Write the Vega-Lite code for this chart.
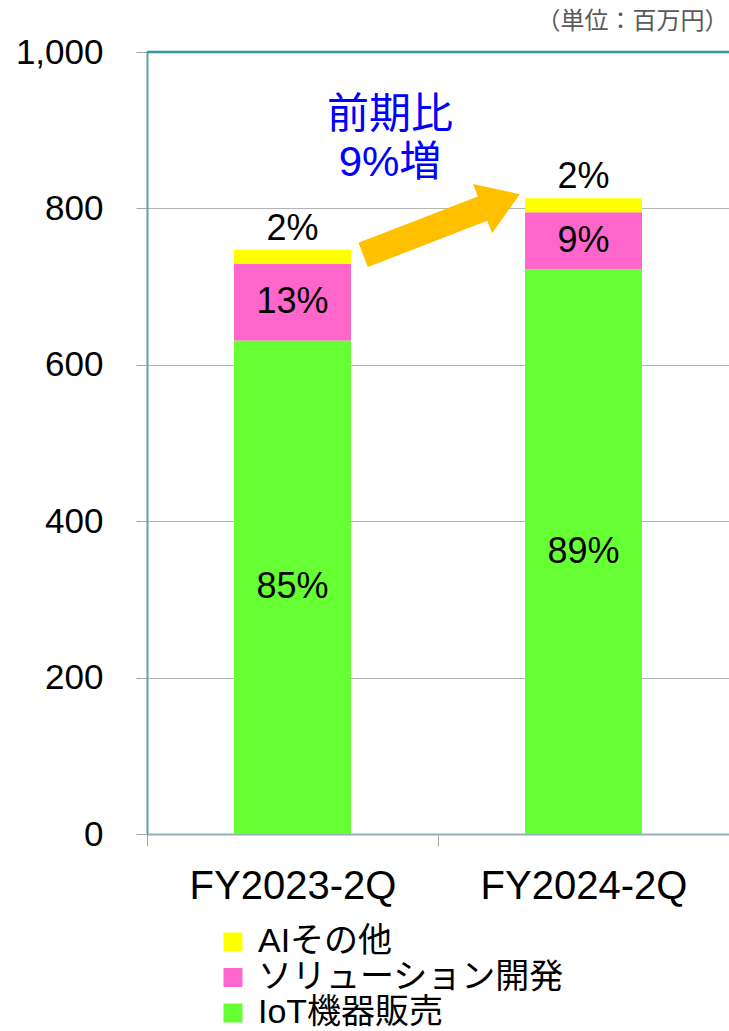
{
  "$schema": "https://vega.github.io/schema/vega-lite/v6.json",
  "autosize": {"type": "none"},
  "width": 582,
  "height": 782,
  "padding": {"left": 147, "top": 52, "right": 0, "bottom": 197},
  "background": "white",
  "config": {
    "view": {"stroke": null},
    "font": "Liberation Sans, Noto Sans CJK JP"
  },
  "layer": [
    {
      "data": {
        "values": [
          {"period": "FY2023-2Q", "segment": "IoT機器販売", "value": 631, "order": 1, "pct": "85%"},
          {"period": "FY2023-2Q", "segment": "ソリューション開発", "value": 98, "order": 2, "pct": "13%"},
          {"period": "FY2023-2Q", "segment": "AIその他", "value": 18, "order": 3, "pct": "2%"},
          {"period": "FY2024-2Q", "segment": "IoT機器販売", "value": 722, "order": 1, "pct": "89%"},
          {"period": "FY2024-2Q", "segment": "ソリューション開発", "value": 73, "order": 2, "pct": "9%"},
          {"period": "FY2024-2Q", "segment": "AIその他", "value": 18, "order": 3, "pct": "2%"}
        ]
      },
      "transform": [
        {"stack": "value", "groupby": ["period"], "sort": [{"field": "order", "order": "ascending"}], "as": ["v0", "v1"]},
        {"calculate": "(datum.v0 + datum.v1) / 2", "as": "mid"}
      ],
      "encoding": {
        "x": {
          "field": "period",
          "type": "nominal",
          "sort": ["FY2023-2Q", "FY2024-2Q"],
          "scale": {"paddingInner": 0, "paddingOuter": 0},
          "axis": {
            "title": null,
            "labelAngle": 0,
            "labelFontSize": 40,
            "labelLimit": 400,
            "labelColor": "#000000",
            "labelPadding": 20,
            "tickBand": "extent",
            "tickSize": 12,
            "tickColor": "#a6a6a6",
            "domainColor": "#8fb3b3",
            "domainWidth": 2,
            "grid": false
          }
        }
      },
      "layer": [
        {
          "mark": {"type": "bar", "size": 117},
          "encoding": {
            "y": {
              "field": "v0",
              "type": "quantitative",
              "scale": {"domain": [0, 1000], "nice": false},
              "axis": {
                "title": null,
                "values": [0, 200, 400, 600, 800, 1000],
                "format": ",d",
                "labelFontSize": 35,
                "labelColor": "#000000",
                "labelPadding": 33,
                "tickSize": 11,
                "tickColor": "#a6a6a6",
                "domainColor": "#679e9e",
                "domainWidth": 2,
                "gridColor": "#b3b3b3",
                "gridWidth": 1.2
              }
            },
            "y2": {"field": "v1"},
            "color": {
              "field": "segment",
              "type": "nominal",
              "scale": {
                "domain": ["AIその他", "ソリューション開発", "IoT機器販売"],
                "range": ["#FFFF00", "#FF66CC", "#66FF33"]
              },
              "legend": {
                "title": null,
                "orient": "none",
                "legendX": 69,
                "legendY": 873,
                "direction": "vertical",
                "symbolType": "square",
                "symbolSize": 361,
                "symbolStrokeWidth": 0,
                "symbolOpacity": 1,
                "labelFontSize": 34,
                "labelColor": "#000000",
                "labelOffset": 8,
                "labelLimit": 500,
                "rowPadding": 1.5,
                "labelFont": "Liberation Sans, Noto Sans CJK JP"
              }
            }
          }
        },
        {
          "transform": [{"filter": "datum.segment !== 'AIその他'"}],
          "mark": {"type": "text", "fontSize": 36, "color": "#000000", "baseline": "middle", "align": "center"},
          "encoding": {
            "y": {"field": "mid", "type": "quantitative"},
            "text": {"field": "pct"}
          }
        },
        {
          "transform": [{"filter": "datum.segment === 'AIその他'"}],
          "mark": {"type": "text", "fontSize": 36, "color": "#000000", "baseline": "alphabetic", "align": "center", "dy": -10},
          "encoding": {
            "y": {"field": "v1", "type": "quantitative"},
            "text": {"field": "pct"}
          }
        }
      ]
    },
    {
      "data": {
        "values": [
          {"kind": "frame", "ax": 0, "ax2": 2, "ay": 1000}
        ]
      },
      "mark": {"type": "rule", "color": "#339999", "strokeWidth": 2.5},
      "encoding": {
        "x": {"field": "ax", "type": "quantitative", "scale": {"domain": [0, 2], "nice": false, "zero": false}, "axis": null},
        "x2": {"field": "ax2"},
        "y": {"field": "ay", "type": "quantitative"}
      }
    },
    {
      "data": {
        "values": [
          {"kind": "arrow", "ax": 1.012, "ay": 779.4}
        ]
      },
      "mark": {
        "type": "point",
        "shape": "M -1 -0.155 L 0.524 -0.155 L 0.524 -0.315 L 1 0 L 0.524 0.315 L 0.524 0.155 L -1 0.155 Z",
        "size": 28224,
        "angle": -21.2,
        "filled": true,
        "color": "#FFC000",
        "opacity": 1,
        "strokeWidth": 0
      },
      "encoding": {
        "x": {"field": "ax", "type": "quantitative", "scale": {"domain": [0, 2], "nice": false, "zero": false}, "axis": null},
        "y": {"field": "ay", "type": "quantitative"}
      }
    },
    {
      "data": {
        "values": [
          {"kind": "note", "ax": 0.835, "ay": 919, "label": ["前期比", "9%増"]}
        ]
      },
      "mark": {
        "type": "text",
        "fontSize": 42,
        "lineHeight": 48,
        "color": "#0000FF",
        "align": "center",
        "baseline": "middle",
        "font": "Liberation Sans, Noto Sans CJK JP"
      },
      "encoding": {
        "x": {"field": "ax", "type": "quantitative", "scale": {"domain": [0, 2], "nice": false, "zero": false}, "axis": null},
        "y": {"field": "ay", "type": "quantitative"},
        "text": {"field": "label"}
      }
    },
    {
      "data": {
        "values": [
          {"kind": "unit", "ax": 1.998, "ay": 1038, "label": "（単位：百万円）"}
        ]
      },
      "mark": {
        "type": "text",
        "fontSize": 24,
        "color": "#595959",
        "align": "right",
        "baseline": "middle",
        "font": "Noto Sans CJK JP"
      },
      "encoding": {
        "x": {"field": "ax", "type": "quantitative", "scale": {"domain": [0, 2], "nice": false, "zero": false}, "axis": null},
        "y": {"field": "ay", "type": "quantitative"},
        "text": {"field": "label"}
      }
    }
  ],
  "resolve": {"scale": {"x": "independent"}}
}
